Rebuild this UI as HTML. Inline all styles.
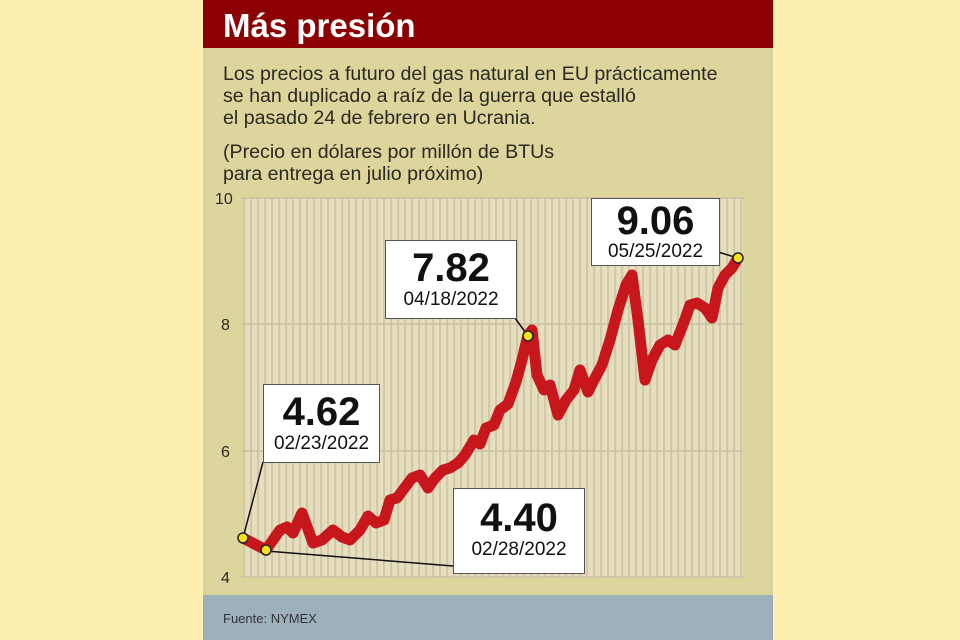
<!DOCTYPE html>
<html><head><meta charset="utf-8"><style>
body{margin:0;width:960px;height:640px;background:#fdf0b0;position:relative;overflow:hidden;font-family:"Liberation Sans",sans-serif}
#panel{position:absolute;left:203px;top:0;width:570px;height:640px;background:#dcd59c}
#title{position:absolute;left:0;top:0;width:570px;height:48px;background:#8b0000;color:#fff;font-weight:bold;font-size:33px;line-height:52px;padding-left:20px;box-sizing:border-box}
.t{position:absolute;left:20px;color:#2a2a22;font-size:19.6px;line-height:22px}
#foot{position:absolute;left:0;top:595px;width:570px;height:45px;background:#9db1bc;color:#333;font-size:13px;padding:16px 0 0 20px;box-sizing:border-box}
.box{position:absolute;background:#fff;border:1px solid #555;text-align:center;color:#111}
.box b{display:block;font-size:40px;line-height:42px;margin-top:6px}
.box span{display:block;font-size:19px;line-height:22px}
</style></head><body>
<div id="panel">
<div id="title">Más presión</div>
<div class="t" style="top:63px">Los precios a futuro del gas natural en EU prácticamente<br>se han duplicado a raíz de la guerra que estalló<br>el pasado 24 de febrero en Ucrania.</div>
<div class="t" style="top:141px">(Precio en dólares por millón de BTUs<br>para entrega en julio próximo)</div>
<div id="foot">Fuente: NYMEX</div>
</div>
<svg width="960" height="640" style="position:absolute;left:0;top:0">
<defs><pattern id="st" x="243" y="0" width="7" height="10" patternUnits="userSpaceOnUse"><rect width="7" height="10" fill="#e6dfbf"/><rect x="0" width="2.2" height="10" fill="#d2c9a6"/></pattern></defs>
<rect x="243" y="198" width="500" height="379" fill="url(#st)"/>
<g stroke="#c9c1a3" stroke-width="1.5"><line x1="241" x2="745" y1="198" y2="198"/><line x1="241" x2="745" y1="324" y2="324"/><line x1="241" x2="745" y1="451" y2="451"/><line x1="241" x2="745" y1="577" y2="577"/></g>
<g font-size="16" fill="#2a2a22"><text x="215" y="204">10</text><text x="221" y="330">8</text><text x="221" y="457">6</text><text x="221" y="583">4</text></g>
<g stroke="#111" stroke-width="1.5"><line x1="243" y1="538" x2="263" y2="462"/><line x1="266" y1="551" x2="453" y2="566"/><line x1="528" y1="336" x2="515" y2="318"/><line x1="738" y1="258" x2="718" y2="252"/></g>
<polyline fill="none" stroke="#c8161d" stroke-width="11" stroke-linejoin="round" stroke-linecap="round" points="243,538 266,550 280,530 287,527 293,533 302,513 313,543 322,540 333,530 342,537 350,540 360,530 368,516 376,523 384,520 390,500 397,498 403,490 412,478 420,475 428,488 435,478 443,470 450,468 458,463 465,455 474,440 480,444 486,428 494,425 500,410 508,404 516,382 522,360 528,335 532,330 537,375 544,390 550,385 558,415 566,400 574,390 580,370 588,392 594,380 602,365 610,340 618,310 626,285 632,275 638,320 645,380 652,360 660,345 668,340 675,345 684,322 690,305 697,303 705,308 712,318 718,288 725,275 732,268 738,258"/>
<g fill="#f5e21a" stroke="#222" stroke-width="1.5"><circle cx="243" cy="538" r="5"/><circle cx="266" cy="550" r="5"/><circle cx="528" cy="336" r="5"/><circle cx="738" cy="258" r="5"/></g>
</svg>
<div class="box" style="left:263px;top:384px;width:115px;height:77px"><b>4.62</b><span>02/23/2022</span></div>
<div class="box" style="left:385px;top:240px;width:130px;height:77px"><b>7.82</b><span>04/18/2022</span></div>
<div class="box" style="left:591px;top:198px;width:127px;height:66px"><b style="margin-top:2px;line-height:40px">9.06</b><span>05/25/2022</span></div>
<div class="box" style="left:453px;top:488px;width:130px;height:84px"><b style="margin-top:8px">4.40</b><span>02/28/2022</span></div>
</body></html>
